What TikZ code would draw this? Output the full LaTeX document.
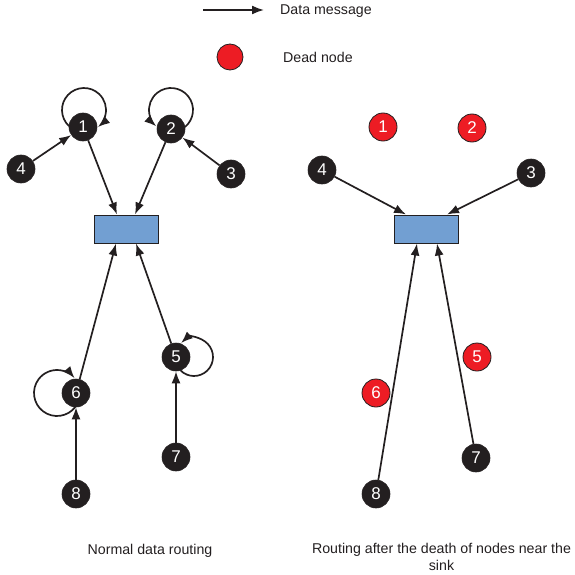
\documentclass[tikz,border=0pt]{standalone}
\usepackage{fontspec}
\setmainfont{Liberation Sans}
\usetikzlibrary{arrows.meta}
\definecolor{nodeblack}{HTML}{231F20}
\definecolor{deadred}{HTML}{ED1C24}
\definecolor{sinkblue}{HTML}{729FD2}
\tikzset{
  alive/.style={circle, fill=nodeblack, draw=nodeblack, line width=0.6pt,
    minimum size=28pt, inner sep=0pt, text=white, font=\fontsize{17}{17}\selectfont},
  dead/.style={circle, fill=deadred, draw=nodeblack, line width=0.8pt,
    minimum size=28pt, inner sep=0pt, text=white, font=\fontsize{17}{17}\selectfont},
  sink/.style={rectangle, fill=sinkblue, draw=nodeblack, line width=1pt,
    minimum width=64pt, minimum height=28pt, inner sep=0pt},
  msg/.style={line width=1.7pt, draw=nodeblack,
    -{Latex[length=12pt,width=9pt]}},
  selfloop/.style={line width=1.7pt, draw=nodeblack,
    -{Latex[length=12pt,width=9pt]}},
  label/.style={font=\fontsize{14.2}{17}\selectfont, text=nodeblack, inner sep=0pt},
}
\begin{document}
\begin{tikzpicture}[x=1pt, y=1pt]
\useasboundingbox (0,0) rectangle (574,-575);

% legend
\coordinate (legA) at (203,-10);
\coordinate (legB) at (264,-10);
\draw[msg] (legA) -- (legB);
\node[label, anchor=west] (legmsg) at (280,-11) {Data message};
\node[dead, minimum size=26pt] (legdead) at (230,-57) {};
\node[label, anchor=west] (legdeadtxt) at (283,-57) {Dead node};

% ---------- normal routing ----------
\node[sink] (sinkL) at (126,-229) {};

\node[alive] (L1) at (83,-127) {1};
\node[alive] (L2) at (171,-129) {2};
\node[alive] (L3) at (231,-174) {3};
\node[alive] (L4) at (21,-169) {4};
\node[alive] (L5) at (176,-357) {5};
\node[alive] (L6) at (76,-393) {6};
\node[alive] (L7) at (176,-457) {7};
\node[alive] (L8) at (76,-494) {8};

% self loops, each leaving and re-entering its own node
\draw[selfloop] ([shift={(1,17)}]L1.center) ++(227:22) arc[start angle=227, end angle=-51, radius=22];
\draw[selfloop] ([shift={(0,19)}]L2.center) ++(-51:22) arc[start angle=-51, end angle=228, radius=22];
\draw[selfloop] ([shift={(18,0)}]L5.center) ++(224:19) arc[start angle=224, end angle=493, radius=19];
\draw[selfloop] ([shift={(-19,0)}]L6.center) ++(-37:23) arc[start angle=-37, end angle=-320, radius=23];

\draw[msg] (L4) -- (L1);
\draw[msg] (L3) -- (L2);
\draw[msg] (L1) -- ([xshift=-9pt]sinkL.north);
\draw[msg] (L2) -- ([xshift=9pt]sinkL.north);
\draw[msg] (L6) -- ([xshift=-10pt]sinkL.south);
\draw[msg] (L5) -- ([xshift=10pt]sinkL.south);
\draw[msg] (L8) -- (L6);
\draw[msg] (L7) -- (L5);

% ---------- after nodes near the sink died ----------
\node[sink] (sinkR) at (426,-229) {};
\node[dead] (R1) at (383,-127) {1};
\node[dead] (R2) at (472,-128) {2};
\node[alive] (R3) at (531,-173) {3};
\node[alive] (R4) at (322,-170) {4};
\node[alive] (R7) at (476,-458) {7};
\node[alive] (R8) at (376,-494) {8};

\draw[msg] (R4) -- ([xshift=-20pt]sinkR.north);
\draw[msg] (R3) -- ([xshift=21pt]sinkR.north);
\draw[msg] (R8) -- ([xshift=-9pt]sinkR.south);
\draw[msg] (R7) -- ([xshift=11pt]sinkR.south);

\node[dead] (R5) at (477,-357) {5};
\node[dead] (R6) at (376,-393) {6};

% captions
\node[label] (capL) at (150,-551) {Normal data routing};
\node[label, align=center] (capR) at (441.5,-557) {Routing after the death of nodes near the\\sink};
\end{tikzpicture}
\end{document}
